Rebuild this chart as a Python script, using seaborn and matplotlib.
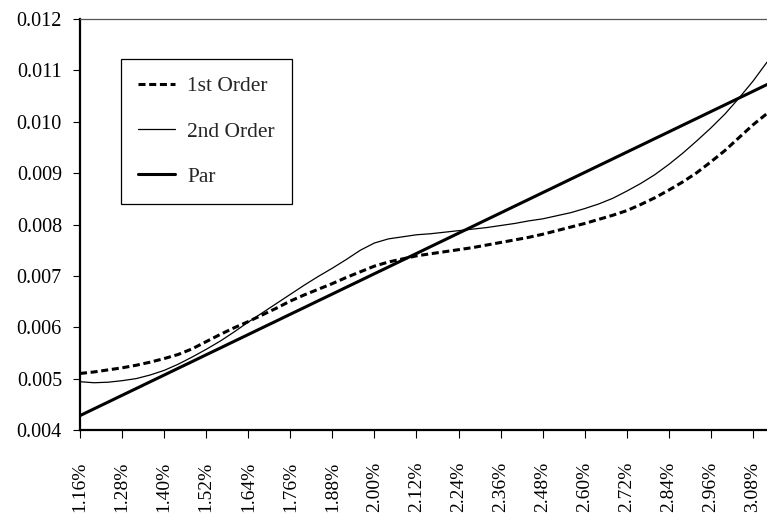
import numpy as np
import pandas as pd
import matplotlib
matplotlib.use("Agg")
import matplotlib.pyplot as plt
import seaborn as sns

# coupon rates (%) on a 0.04 grid, tick labels every 0.12
rates = [1.16, 1.20, 1.24, 1.28, 1.32, 1.36, 1.40, 1.44, 1.48, 1.52,
         1.56, 1.60, 1.64, 1.68, 1.72, 1.76, 1.80, 1.84, 1.88, 1.92,
         1.96, 2.00, 2.04, 2.08, 2.12, 2.16, 2.20, 2.24, 2.28, 2.32,
         2.36, 2.40, 2.44, 2.48, 2.52, 2.56, 2.60, 2.64, 2.68, 2.72,
         2.76, 2.80, 2.84, 2.88, 2.92, 2.96, 3.00, 3.04, 3.08, 3.12]

first_order = [0.00510, 0.00513, 0.00517, 0.00521, 0.00526, 0.00532, 0.00539, 0.00547, 0.00558, 0.00572,
               0.00586, 0.00599, 0.00611, 0.00624, 0.00637, 0.00651, 0.00663, 0.00674, 0.00685, 0.00697,
               0.00708, 0.00719, 0.00727, 0.00733, 0.00739, 0.00743, 0.00747, 0.00751, 0.00755, 0.00760,
               0.00765, 0.00770, 0.00775, 0.00781, 0.00788, 0.00795, 0.00802, 0.00810, 0.00818, 0.00827,
               0.00839, 0.00852, 0.00867, 0.00883, 0.00901, 0.00922, 0.00944, 0.00969, 0.00994, 0.01016]

second_order = [0.00494, 0.00492, 0.00493, 0.00496, 0.00500, 0.00507, 0.00516, 0.00528, 0.00542, 0.00557,
                0.00573, 0.00591, 0.00610, 0.00628, 0.00646, 0.00664, 0.00682, 0.00699, 0.00715, 0.00732,
                0.00750, 0.00764, 0.00772, 0.00776, 0.00780, 0.00782, 0.00785, 0.00788, 0.00791, 0.00794,
                0.00798, 0.00802, 0.00807, 0.00811, 0.00817, 0.00823, 0.00831, 0.00840, 0.00851, 0.00865,
                0.00880, 0.00897, 0.00917, 0.00939, 0.00963, 0.00988, 0.01015, 0.01046, 0.01079, 0.01116]

par = [0.004280, 0.004412, 0.004543, 0.004675, 0.004806, 0.004938, 0.005069, 0.005201, 0.005332, 0.005464,
       0.005595, 0.005727, 0.005858, 0.005990, 0.006121, 0.006253, 0.006384, 0.006516, 0.006647, 0.006779,
       0.006910, 0.007042, 0.007173, 0.007305, 0.007436, 0.007568, 0.007699, 0.007831, 0.007962, 0.008094,
       0.008225, 0.008357, 0.008488, 0.008620, 0.008751, 0.008883, 0.009014, 0.009146, 0.009277, 0.009409,
       0.009540, 0.009672, 0.009803, 0.009935, 0.010066, 0.010198, 0.010329, 0.010461, 0.010592, 0.010724]

tick_rates = [1.16, 1.28, 1.40, 1.52, 1.64, 1.76, 1.88, 2.00, 2.12,
              2.24, 2.36, 2.48, 2.60, 2.72, 2.84, 2.96, 3.08]
tick_labels = ["1.16%", "1.28%", "1.40%", "1.52%", "1.64%", "1.76%", "1.88%", "2.00%", "2.12%",
               "2.24%", "2.36%", "2.48%", "2.60%", "2.72%", "2.84%", "2.96%", "3.08%"]
y_ticks = [0.004, 0.005, 0.006, 0.007, 0.008, 0.009, 0.010, 0.011, 0.012]

df = pd.DataFrame({"rate": rates, "1st Order": first_order,
                   "2nd Order": second_order, "Par": par})

sns.set_style("ticks")
plt.rcParams["font.family"] = ["Liberation Serif", "DejaVu Serif"]

fig = plt.figure(figsize=(7.67, 5.19), dpi=100)
ax = fig.add_axes([80 / 767, 1 - 430 / 519, 687 / 767, 411 / 519])

sns.lineplot(data=df, x="rate", y="1st Order", ax=ax, color="black", lw=2.2,
             linestyle=(0, (2.3, 1.2)), label="1st Order")
sns.lineplot(data=df, x="rate", y="2nd Order", ax=ax, color="black", lw=0.9,
             label="2nd Order")
sns.lineplot(data=df, x="rate", y="Par", ax=ax, color="black", lw=2.2,
             label="Par")

ax.set_xlim(1.16, 3.12)
ax.set_ylim(0.004, 0.012)
ax.set_xticks(tick_rates)
ax.set_xticklabels(tick_labels, rotation=90, fontsize=14)
ax.set_yticks(y_ticks)
ax.set_yticklabels([f"{v:.3f}" for v in y_ticks], fontsize=14.5)
ax.set_xlabel("")
ax.set_ylabel("")

ax.tick_params(axis="x", direction="out", length=6, width=0.8, pad=17, colors="black")
ax.tick_params(axis="y", direction="out", length=5, width=0.8, pad=8, colors="black")

for side in ["left", "bottom"]:
    ax.spines[side].set_color("black")
    ax.spines[side].set_linewidth(1.6)
ax.spines["top"].set_visible(True)
ax.spines["top"].set_color("#555555")
ax.spines["top"].set_linewidth(0.9)
ax.spines["right"].set_visible(False)

leg = ax.legend(loc="upper left", bbox_to_anchor=(41 / 687, (430 - 59) / 411),
                borderaxespad=0, fontsize=15.5, frameon=True, fancybox=False,
                edgecolor="black", framealpha=1, handlelength=1.72,
                handletextpad=0.56, labelspacing=1.17, borderpad=0.8)
leg.get_frame().set_linewidth(0.9)

fig.savefig("out.png", dpi=100)
